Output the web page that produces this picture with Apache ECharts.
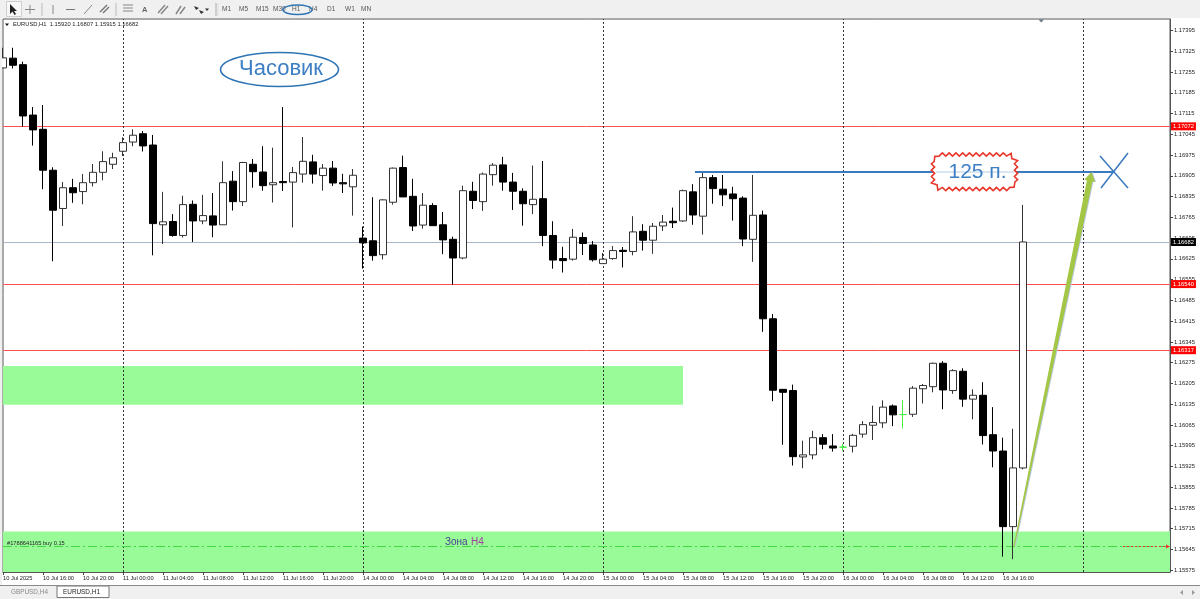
<!DOCTYPE html>
<html>
<head>
<meta charset="utf-8" />
<title>EURUSD,H1</title>
<script src="https://cdn.jsdelivr.net/npm/echarts@6/dist/echarts.min.js"></script>
<style>
html,body{margin:0;padding:0;background:#fff;}
#main{width:1200px;height:599px;}
</style>
</head>
<body>
<div id="main"></div>
<script type="text/javascript">
var opens = [
1.17269,1.17302,1.17280,1.17110,1.17062,1.16924,1.16795,1.16865,1.16852,1.16882,
1.16917,1.16944,1.16988,1.17019,1.17047,1.17009,1.16740,1.16751,1.16704,1.16809,
1.16753,1.16770,1.16740,1.16887,1.16818,1.16944,1.16918,1.16875,1.16886,1.16884,
1.16911,1.16952,1.16906,1.16931,1.16882,1.16868,1.16695,1.16686,1.16639,1.16816,
1.16933,1.16836,1.16739,1.16805,1.16740,1.16691,1.16628,1.16853,1.16818,1.16909,
1.16942,1.16884,1.16853,1.16808,1.16828,1.16704,1.16626,1.16624,1.16697,1.16672,
1.16609,1.16626,1.16654,1.16650,1.16718,1.16688,1.16736,1.16752,1.16753,1.16851,
1.16769,1.16899,1.16860,1.16844,1.16830,1.16691,1.16773,1.16423,1.16185,1.16181,
1.15957,1.15964,1.16022,1.15994,1.15990,1.15993,1.16034,1.16064,1.16072,1.16129,
1.16100,1.16101,1.16187,1.16194,1.16273,1.16181,1.16246,1.16152,1.16165,1.16032,
1.15977,1.15722,1.15920];
var closes = [
1.17303,1.17278,1.17107,1.17060,1.16924,1.16789,1.16865,1.16848,1.16882,1.16917,
1.16953,1.16966,1.17017,1.17042,1.17006,1.16744,1.16750,1.16704,1.16808,1.16753,
1.16771,1.16739,1.16882,1.16818,1.16950,1.16919,1.16872,1.16882,1.16882,1.16916,
1.16954,1.16911,1.16931,1.16881,1.16878,1.16907,1.16679,1.16636,1.16824,1.16931,
1.16834,1.16736,1.16806,1.16737,1.16689,1.16628,1.16855,1.16822,1.16911,1.16941,
1.16884,1.16853,1.16811,1.16826,1.16704,1.16621,1.16619,1.16698,1.16677,1.16622,
1.16624,1.16653,1.16650,1.16716,1.16688,1.16735,1.16749,1.16747,1.16855,1.16773,
1.16899,1.16862,1.16841,1.16828,1.16692,1.16772,1.16423,1.16182,1.16175,1.15958,
1.15964,1.16022,1.16000,1.15987,1.15990,1.16030,1.16066,1.16073,1.16125,1.16099,
1.16100,1.16189,1.16198,1.16273,1.16183,1.16248,1.16152,1.16165,1.16029,1.15977,
1.15722,1.15920,1.16682];
var lows = [
1.17269,1.17267,1.17071,1.17007,1.16860,1.16617,1.16736,1.16814,1.16809,1.16869,
1.16890,1.16928,1.16972,1.17005,1.16987,1.16637,1.16675,1.16700,1.16697,1.16682,
1.16742,1.16698,1.16740,1.16788,1.16803,1.16865,1.16855,1.16815,1.16854,1.16731,
1.16882,1.16879,1.16855,1.16871,1.16847,1.16771,1.16592,1.16619,1.16623,1.16808,
1.16834,1.16719,1.16727,1.16737,1.16641,1.16538,1.16624,1.16793,1.16787,1.16872,
1.16855,1.16790,1.16737,1.16776,1.16668,1.16592,1.16579,1.16619,1.16638,1.16616,
1.16609,1.16622,1.16596,1.16637,1.16653,1.16642,1.16719,1.16729,1.16750,1.16740,
1.16707,1.16811,1.16803,1.16754,1.16668,1.16615,1.16379,1.16145,1.15998,1.15928,
1.15919,1.15949,1.15983,1.15975,1.15977,1.15972,1.16022,1.16014,1.16055,1.16061,
1.16053,1.16092,1.16137,1.16175,1.16118,1.16170,1.16126,1.16084,1.15999,1.15922,
1.15621,1.15612,1.15915];
var highs = [
1.17337,1.17337,1.17290,1.17137,1.17144,1.16934,1.16884,1.16895,1.16911,1.16945,
1.16988,1.16983,1.17035,1.17062,1.17056,1.17043,1.16851,1.16776,1.16838,1.16822,
1.16841,1.16847,1.16954,1.16921,1.16952,1.16962,1.17005,1.17000,1.17137,1.16935,
1.17036,1.16976,1.16945,1.16955,1.16912,1.16928,1.16734,1.16833,1.16826,1.16933,
1.16973,1.16895,1.16847,1.16813,1.16783,1.16700,1.16872,1.16885,1.16916,1.16948,
1.16969,1.16915,1.16863,1.16940,1.16955,1.16752,1.16666,1.16726,1.16714,1.16685,
1.16645,1.16668,1.16665,1.16769,1.16742,1.16746,1.16773,1.16798,1.16859,1.16877,
1.16919,1.16908,1.16908,1.16868,1.16836,1.16908,1.16788,1.16439,1.16185,1.16201,
1.16012,1.16045,1.16034,1.16034,1.16001,1.16035,1.16078,1.16130,1.16148,1.16134,
1.16149,1.16196,1.16203,1.16275,1.16280,1.16253,1.16256,1.16185,1.16209,1.16125,
1.16022,1.16052,1.16807];

// подписи времени, каждая 4-я свеча
var timeLabels = [
'10 Jul 2025','10 Jul 16:00','10 Jul 20:00',
'11 Jul 00:00','11 Jul 04:00','11 Jul 08:00','11 Jul 12:00','11 Jul 16:00','11 Jul 20:00',
'14 Jul 00:00','14 Jul 04:00','14 Jul 08:00','14 Jul 12:00','14 Jul 16:00','14 Jul 20:00',
'15 Jul 00:00','15 Jul 04:00','15 Jul 08:00','15 Jul 12:00','15 Jul 16:00','15 Jul 20:00',
'16 Jul 00:00','16 Jul 04:00','16 Jul 08:00','16 Jul 12:00','16 Jul 16:00'];
var priceTicks = [
1.17395,1.17325,1.17255,1.17185,1.17115,1.17045,1.16975,1.16905,1.16835,1.16765,
1.16695,1.16625,1.16555,1.16485,1.16415,1.16345,1.16275,1.16205,1.16135,1.16065,
1.15995,1.15925,1.15855,1.15785,1.15715,1.15645,1.15575];
var redLevels = [1.17072, 1.16540, 1.16317];
var bidLevel = 1.16682;
var orderLevel = 1.15655;
var periodSeps = [12, 36, 60, 84, 108];
var zoneUpper = [1.16264, 1.16133];   // до свечи 68
var zoneLower = [1.15706, 1.15569];
var targetLevel = 1.16918;
var targetFrom = 69.2, targetTo = 111.1;
var arrowFrom = [101.1, 1.15655], arrowTo = [108.85, 1.16918];

var FONT = '"Liberation Sans", Arial, sans-serif';
var BLUE = '#3a7abf';
var candles = [];
var timeTicks = [];
for (var i = 0; i < opens.length; i++) {
    candles.push([i, opens[i], closes[i], lows[i], highs[i]]);
}
for (var t = 0; t < timeLabels.length; t++) {
    timeTicks.push(t * 4);
}

var myChart = echarts.init(document.getElementById('main'), null, {renderer: 'canvas'});

function priceLine(v, color, tagBg) {
    return {
        yAxis: v,
        lineStyle: {color: color, width: 1, type: 'solid'},
        label: {
            show: true, position: 'end', distance: 1,
            formatter: v.toFixed(5), color: '#fff', fontSize: 5.8, fontFamily: FONT,
            backgroundColor: tagBg, padding: [1, 2, 1, 2], lineHeight: 6
        }
    };
}

var lineData = [];
for (var r = 0; r < redLevels.length; r++) {
    lineData.push(priceLine(redLevels[r], '#ff5050', '#f00'));
}
lineData.push(priceLine(bidLevel, '#a9b8c8', '#000'));
for (var s = 0; s < periodSeps.length; s++) {
    lineData.push({xAxis: periodSeps[s], lineStyle: {color: '#333', width: 1, type: [2, 2]}, label: {show: false}});
}
lineData.push({yAxis: orderLevel, lineStyle: {color: '#45d845', width: 1, type: [9, 3, 2, 3]}, label: {show: false}});
lineData.push([
    {coord: [112, orderLevel], symbol: 'none', lineStyle: {color: '#e33', width: 1, type: [2, 2]}, label: {show: false}},
    {coord: [116.5, orderLevel], symbol: 'triangle', symbolSize: 4, symbolRotate: -90}
]);

// линия цели, крест и стрелка привязаны к цене
function renderAnnotations(params, api) {
    var a = api.coord([targetFrom, targetLevel]);
    var b = api.coord([targetTo, targetLevel]);
    var s = api.coord(arrowFrom);
    var e = api.coord(arrowTo);
    var len = Math.sqrt((e[0]-s[0])*(e[0]-s[0]) + (e[1]-s[1])*(e[1]-s[1]));
    var dx = (e[0]-s[0])/len, dy = (e[1]-s[1])/len;
    var nx = -dy, ny = dx;
    var bx = e[0]-dx*9, by = e[1]-dy*9;
    function arrowPts(off) {
        return [
            [s[0]+off-nx*0.6, s[1]-ny*0.6],
            [s[0]+off+nx*0.6, s[1]+ny*0.6],
            [bx+nx*2.8+off, by+ny*2.8],
            [bx+nx*5.5+off, by+ny*5.5],
            [e[0]+off, e[1]],
            [bx-nx*5.5+off, by-ny*5.5],
            [bx-nx*2.8+off, by-ny*2.8]
        ];
    }
    return {type: 'group', children: [
        {type: 'line', shape: {x1: a[0], y1: a[1], x2: b[0], y2: b[1]}, style: {stroke: BLUE, lineWidth: 2}},
        {type: 'line', shape: {x1: b[0]-14, y1: b[1]-16, x2: b[0]+14, y2: b[1]+16}, style: {stroke: BLUE, lineWidth: 1.5}},
        {type: 'line', shape: {x1: b[0]+14, y1: b[1]-19, x2: b[0]-13, y2: b[1]+16}, style: {stroke: BLUE, lineWidth: 1.5}},
        {type: 'polygon', shape: {points: arrowPts(1)}, style: {fill: '#b8c6dc'}},
        {type: 'polygon', shape: {points: arrowPts(0)}, style: {fill: '#a3c644'}}
    ]};
}

// зубчатая рамка "125 п."
function zigzag(x0, y0, x1, y1, cut, step, amp) {
    var c = [[x0+cut,y0],[x1-cut,y0],[x1,y0+cut],[x1,y1-cut],[x1-cut,y1],[x0+cut,y1],[x0,y1-cut],[x0,y0+cut]];
    var pts = [], flip = false;
    for (var k = 0; k < c.length; k++) {
        var p = c[k], q = c[(k+1)%c.length];
        var l = Math.sqrt((q[0]-p[0])*(q[0]-p[0])+(q[1]-p[1])*(q[1]-p[1]));
        var n = Math.max(1, Math.round(l/step));
        var ux = (q[0]-p[0])/l, uy = (q[1]-p[1])/l;
        for (var m = 0; m < n; m++) {
            var o = flip ? amp : -amp;
            flip = !flip;
            pts.push([p[0]+ux*l*m/n+uy*o, p[1]+uy*l*m/n-ux*o]);
        }
    }
    return pts;
}

function txt(x, y, text, size, color, extra) {
    var st = {x: x, y: y, text: text, fontSize: size, fill: color, fontFamily: FONT, verticalAlign: 'middle', align: 'left'};
    for (var k in (extra || {})) { st[k] = extra[k]; }
    return {type: 'text', z: 20, silent: true, style: st};
}
function ln(x1, y1, x2, y2, color, w) {
    return {type: 'line', z: 20, silent: true, shape: {x1: x1, y1: y1, x2: x2, y2: y2}, style: {stroke: color, lineWidth: w || 1}};
}
function box(x, y, w, h, fill, stroke) {
    return {type: 'rect', z: 19, silent: true, shape: {x: x, y: y, width: w, height: h}, style: {fill: fill, stroke: stroke || null, lineWidth: 1}};
}
function poly(points, fill) {
    return {type: 'polygon', z: 20, silent: true, shape: {points: points}, style: {fill: fill}};
}

var graphics = [
    box(0, 0, 1200, 18, '#f0f0f0'),
    box(0, 18, 2, 568, '#f0f0f0'),
    box(0, 586, 1200, 13, '#f0f0f0'),
    ln(0, 585.5, 1200, 585.5, '#8a8a8a', 1),
    // панель инструментов
    box(6.5, 1.5, 15, 15, '#f8f8f8', '#cfcfcf'),
    poly([[10,4],[10,14],[12.5,11.5],[14.5,15],[16,14],[14,11],[17,11]], '#222'),
    ln(30, 5, 30, 14, '#888'), ln(25, 9.5, 35, 9.5, '#888'),
    ln(42, 3, 42, 16, '#bbb'),
    ln(53, 5, 53, 14, '#888'),
    ln(66, 9.5, 75, 9.5, '#777'),
    ln(84, 14, 92, 5, '#888'),
    ln(100, 12, 107, 5, '#777', 1.5), ln(103, 13, 109, 7, '#777', 1.5),
    ln(116, 3, 116, 16, '#bbb'),
    ln(123, 5, 133, 5, '#888'), ln(123, 8, 133, 8, '#888'), ln(123, 11, 133, 11, '#888'),
    txt(142, 10, 'A', 7.5, '#666', {fontWeight: 'bold'}),
    ln(158, 13, 165, 5, '#888', 1.5), ln(161, 14, 168, 6, '#888', 1.5),
    ln(176, 14, 181, 6, '#888', 1.5), ln(180, 14, 185, 7, '#888', 1.5),
    poly([[194,6],[199,8],[196,10]], '#333'), poly([[199,10],[204,12],[201,14]], '#333'),
    poly([[205,8.5],[209,8.5],[207,11]], '#333'),
    ln(216, 3, 216, 16, '#aaa'), ln(218, 3, 218, 16, '#ddd'),
    txt(222, 9.5, 'M1', 6.5, '#555'),
    txt(239, 9.5, 'M5', 6.5, '#555'),
    txt(256, 9.5, 'M15', 6.5, '#555'),
    txt(273, 9.5, 'M30', 6.5, '#555'),
    txt(292, 9.5, 'H1', 6.5, '#555'),
    txt(309, 9.5, 'H4', 6.5, '#555'),
    txt(327, 9.5, 'D1', 6.5, '#555'),
    txt(345, 9.5, 'W1', 6.5, '#555'),
    txt(361, 9.5, 'MN', 6.5, '#555'),
    {type: 'ellipse', z: 21, silent: true, shape: {cx: 297.5, cy: 9.8, rx: 14.5, ry: 4.8}, style: {fill: null, stroke: '#2f75b5', lineWidth: 1.5}},
    // заголовок графика
    poly([[5,23.5],[9,23.5],[7,26]], '#111'),
    txt(13, 24.8, 'EURUSD,H1  1.15920 1.16807 1.15915 1.16682', 5.8, '#222'),
    poly([[1038.5,19.5],[1044,19.5],[1041.2,22.5]], '#6d7a88'),
    // надписи
    {type: 'ellipse', z: 21, silent: true, shape: {cx: 279.5, cy: 69.5, rx: 59, ry: 17}, style: {fill: '#fff', stroke: '#2f75b5', lineWidth: 1.6}},
    {type: 'text', z: 22, silent: true, style: {x: 281, y: 69, text: 'Часовик', fontSize: 22, fill: '#3d7fc4', fontFamily: FONT, align: 'center', verticalAlign: 'middle'}},
    {type: 'polygon', z: 21, silent: true, shape: {points: zigzag(933, 154.5, 1016, 189, 6, 3.4, 1.6)}, style: {fill: '#fff', stroke: '#e8382c', lineWidth: 1.6}},
    {type: 'line', z: 21, silent: true, shape: {x1: 936, y1: 172, x2: 1014, y2: 172}, style: {stroke: '#dbe6f3', lineWidth: 2}},
    {type: 'text', z: 22, silent: true, style: {x: 977.5, y: 172, text: '125 п.', fontSize: 21, fill: '#3d7fc4', fontFamily: FONT, align: 'center', verticalAlign: 'middle'}},
    txt(7, 543, '#1788641165 buy 0.15', 5.7, '#222'),
    {type: 'text', z: 20, silent: true, style: {x: 445, y: 542, text: '{a|Зона} {b|H4}', verticalAlign: 'middle', fontFamily: FONT,
        rich: {a: {fontSize: 10, fill: '#4a3f8f', fontFamily: FONT}, b: {fontSize: 10, fill: '#a3409a', fontFamily: FONT}}}},
    // вкладки
    txt(11, 592.5, 'GBPUSD,H4', 6.4, '#8a8a8a'),
    box(57, 586, 52, 11.5, '#fff', '#777'),
    txt(63, 592.5, 'EURUSD,H1', 6.4, '#222'),
    poly([[1183,590],[1183,595],[1180,592.5]], '#999'),
    poly([[1192,590],[1192,595],[1195,592.5]], '#999')
];

myChart.setOption({
    animation: false,
    backgroundColor: '#fff',
    grid: {left: 3, right: 30, top: 19, bottom: 27, show: true, backgroundColor: '#fff', borderColor: '#555', borderWidth: 1},
    tooltip: {show: false},
    xAxis: {
        type: 'value', min: 0, max: 116.7, interval: 4,
        splitLine: {show: false},
        axisLine: {show: true, onZero: false, lineStyle: {color: '#555'}},
        axisTick: {show: true, length: 3, lineStyle: {color: '#444'}, customValues: timeTicks},
        axisLabel: {
            show: true, customValues: timeTicks, margin: 3, align: 'left', hideOverlap: false,
            fontSize: 5.7, fontFamily: FONT, color: '#222',
            formatter: function (v) { return timeLabels[v / 4]; }
        }
    },
    yAxis: {
        type: 'value', position: 'right', min: 1.15569, max: 1.17434,
        splitLine: {show: false},
        axisLine: {show: true, onZero: false, lineStyle: {color: '#555'}},
        axisTick: {show: true, length: 3, lineStyle: {color: '#444'}, customValues: priceTicks},
        axisLabel: {
            show: true, customValues: priceTicks, margin: 4, hideOverlap: false,
            fontSize: 5.8, fontFamily: FONT, color: '#222',
            formatter: function (v) { return v.toFixed(5); }
        }
    },
    series: [
        {
            name: 'EURUSD,H1',
            type: 'candlestick',
            z: 2,
            barWidth: 7,
            data: candles,
            clip: true,
            itemStyle: {
                color: '#fff', color0: '#000',
                borderColor: '#333', borderColor0: '#000',
                borderColorDoji: '#45ee45', borderWidth: 1
            },
            markArea: {
                silent: true, z: 0,
                itemStyle: {color: '#98fb98', opacity: 1},
                data: [
                    [{coord: [0, zoneUpper[0]]}, {coord: [68, zoneUpper[1]]}],
                    [{coord: [0, zoneLower[0]]}, {coord: [116.7, zoneLower[1]]}]
                ]
            },
            markLine: {silent: true, z: 1, symbol: 'none', precision: 5, animation: false, data: lineData}
        },
        {
            type: 'custom',
            z: 3,
            silent: true,
            clip: false,
            renderItem: renderAnnotations,
            data: [arrowTo]
        }
    ],
    graphic: graphics
});
</script>
</body>
</html>
